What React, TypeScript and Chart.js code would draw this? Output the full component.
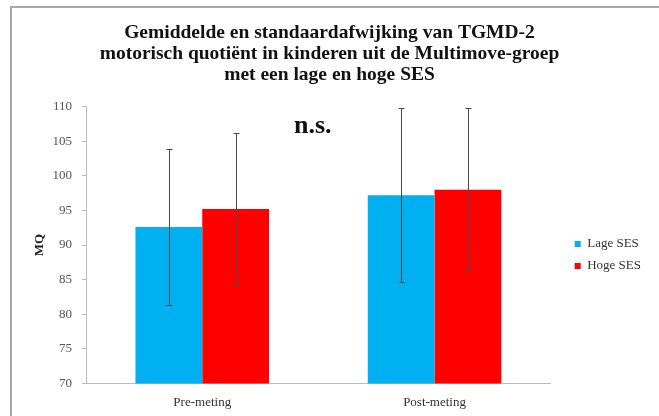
import React, { useEffect, useRef } from "react";
import { Chart, registerables } from "chart.js";

Chart.register(...registerables);

const categories = ["Pre-meting", "Post-meting"];
const lageMean = [92.6, 97.2];
const lageSD = [11.3, 12.6];
const hogeMean = [95.2, 98.0];
const hogeSD = [11.0, 11.8];
const seriesNames = ["Lage SES", "Hoge SES"];
const titleLines = [
  "Gemiddelde en standaardafwijking van TGMD-2",
  "motorisch quotiënt in kinderen uit de Multimove-groep",
  "met een lage en hoge SES",
];
const annotationText = "n.s.";

const SERIF = "'Liberation Serif', 'Times New Roman', serif";

const errorBarPlugin = {
  id: "errorBars",
  afterDatasetsDraw(chart: any) {
    const ctx = chart.ctx;
    const yScale = chart.scales.y;
    ctx.save();
    ctx.strokeStyle = "#4a4a4a";
    ctx.lineWidth = 1;
    chart.data.datasets.forEach((ds: any, di: number) => {
      const meta = chart.getDatasetMeta(di);
      meta.data.forEach((bar: any, i: number) => {
        const m = ds.data[i];
        const sd = ds.sd[i];
        const x = Math.round(bar.x) + 0.5;
        const yTop = yScale.getPixelForValue(m + sd);
        const yBot = yScale.getPixelForValue(m - sd);
        ctx.beginPath();
        ctx.moveTo(x, yTop);
        ctx.lineTo(x, yBot);
        ctx.moveTo(x - 3, Math.round(yTop) + 0.5);
        ctx.lineTo(x + 3, Math.round(yTop) + 0.5);
        ctx.moveTo(x - 3, Math.round(yBot) + 0.5);
        ctx.lineTo(x + 3, Math.round(yBot) + 0.5);
        ctx.stroke();
      });
    });
    ctx.restore();
  },
};

const annotationPlugin = {
  id: "nsLabel",
  afterDraw(chart: any) {
    const ctx = chart.ctx;
    const area = chart.chartArea;
    ctx.save();
    ctx.font = `bold 26px ${SERIF}`;
    ctx.fillStyle = "#111";
    ctx.textAlign = "center";
    ctx.textBaseline = "middle";
    const x = area.left + (area.right - area.left) * 0.488;
    ctx.fillText(annotationText, x, area.top + 20);
    ctx.restore();
  },
};

export default function App() {
  const ref = useRef<HTMLCanvasElement>(null);
  useEffect(() => {
    if (!ref.current) return;
    const chart = new Chart(ref.current, {
      type: "bar",
      data: {
        labels: categories,
        datasets: [
          {
            label: seriesNames[0],
            data: lageMean,
            sd: lageSD,
            backgroundColor: "#00b0f0",
            borderWidth: 0,
            barPercentage: 1,
            categoryPercentage: 0.575,
          } as any,
          {
            label: seriesNames[1],
            data: hogeMean,
            sd: hogeSD,
            backgroundColor: "#ff0000",
            borderWidth: 0,
            barPercentage: 1,
            categoryPercentage: 0.575,
          } as any,
        ],
      },
      options: {
        animation: false,
        responsive: true,
        maintainAspectRatio: false,
        layout: { padding: { left: 8, right: 8, top: 20, bottom: -5 } },
        plugins: {
          title: {
            display: true,
            text: titleLines,
            color: "#111",
            font: { family: SERIF, size: 19.5, weight: "bold", lineHeight: 1.08 },
            padding: { top: 2.5, bottom: 21 },
          },
          legend: {
            position: "right",
            fullSize: false,
            title: {
              display: true,
              text: " ",
              font: { size: 1, lineHeight: 1 },
              padding: { top: 0, bottom: 19 },
            },
            labels: {
              boxWidth: 6,
              boxHeight: 6,
              color: "#333",
              padding: 9,
              font: { family: SERIF, size: 13 },
            },
          },
          tooltip: { enabled: false },
        },
        scales: {
          x: {
            grid: { display: false, drawTicks: false },
            border: { color: "#bbbbbb" },
            ticks: { color: "#333", font: { family: SERIF, size: 13 }, padding: 11 },
          },
          y: {
            min: 70,
            max: 110,
            grid: {
              display: true,
              drawOnChartArea: false,
              drawTicks: true,
              tickLength: 4,
              color: "#bbbbbb",
            },
            border: { color: "#bbbbbb" },
            ticks: {
              stepSize: 5,
              color: "#555",
              font: { family: SERIF, size: 13 },
              padding: 10,
            },
            title: {
              display: true,
              text: "MQ",
              color: "#222",
              font: { family: SERIF, size: 13, weight: "bold" },
              padding: { top: 24, bottom: -5 },
            },
          },
          gap: {
            type: "linear",
            position: "right",
            display: true,
            grid: { display: false, drawTicks: false },
            border: { display: false },
            ticks: { display: false },
            afterFit: (scale: any) => {
              scale.width = 15;
            },
          } as any,
        },
      },
      plugins: [errorBarPlugin, annotationPlugin],
    });
    return () => chart.destroy();
  }, []);

  return (
    <div style={{ position: "fixed", left: 0, top: 0, width: 659, height: 416, background: "#fff" }}>
      <div
        style={{
          position: "absolute",
          left: 10,
          top: 6,
          right: 0,
          bottom: 0,
          borderTop: "2px solid #a8a8a8",
          borderLeft: "2px solid #a8a8a8",
        }}
      />
      <div style={{ position: "absolute", left: 0, top: 0, width: 659, height: 416 }}>
        <canvas ref={ref} />
      </div>
    </div>
  );
}
